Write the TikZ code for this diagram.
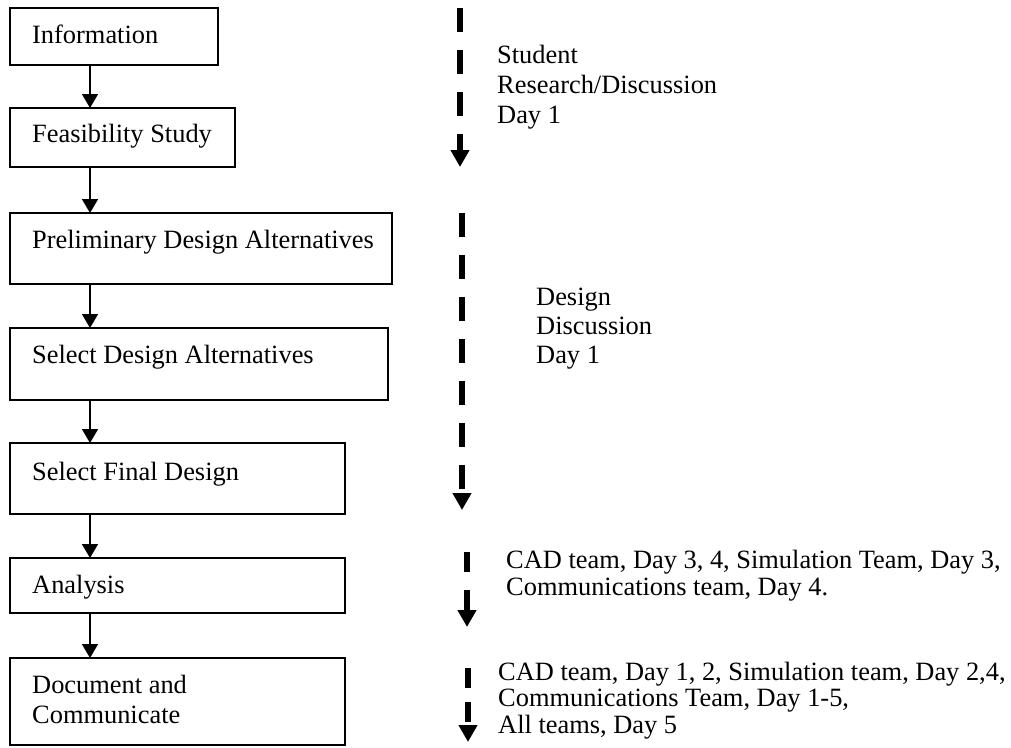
\documentclass[tikz,border=0pt]{standalone}
\usepackage{fontspec}
\setmainfont{Liberation Serif}
\usetikzlibrary{arrows.meta}
\begin{document}
\begin{tikzpicture}[x=1pt,y=-1pt,
  box/.style={draw,line width=1.6pt,rectangle,anchor=north west,inner sep=0pt,outer sep=0pt},
  lbl/.style={anchor=base west,inner sep=0pt,align=left,font=\fontsize{26.4}{29.5}\selectfont},
  arr/.style={line width=1.6pt,-{Triangle[width=16pt,length=14pt]}},
  darr/.style={line width=6.5pt,-{Triangle[width=18pt,length=17pt]}}
]
\useasboundingbox (0,0) rectangle (1011,747);
% boxes
\node[box,minimum width=208pt,minimum height=57pt] (b1) at (10,8) {};
\node[box,minimum width=225pt,minimum height=59pt] (b2) at (10,108) {};
\node[box,minimum width=382pt,minimum height=71pt] (b3) at (10,213) {};
\node[box,minimum width=378pt,minimum height=72pt] (b4) at (10,328) {};
\node[box,minimum width=335pt,minimum height=71pt] (b5) at (10,443) {};
\node[box,minimum width=335pt,minimum height=55pt] (b6) at (10,558) {};
\node[box,minimum width=335pt,minimum height=87pt] (b7) at (10,658) {};
% box texts (base anchor = baseline of the last line)
\node[lbl] (t1) at (32,43) {Information};
\node[lbl] (t2) at (32,142) {Feasibility Study};
\node[lbl] (t3) at (32,248) {Preliminary Design Alternatives};
\node[lbl] (t4) at (32,363) {Select Design Alternatives};
\node[lbl] (t5) at (32,480) {Select Final Design};
\node[lbl] (t6) at (32,593) {Analysis};
\node[lbl,font=\fontsize{26.4}{30}\selectfont] (t7) at (32,723) {Document and\\Communicate};
% flow arrows
\draw[arr] ([xshift=80pt]b1.south west) -- ([xshift=80pt]b2.north west);
\draw[arr] ([xshift=80pt]b2.south west) -- ([xshift=80pt]b3.north west);
\draw[arr] ([xshift=80pt]b3.south west) -- ([xshift=80pt]b4.north west);
\draw[arr] ([xshift=80pt]b4.south west) -- ([xshift=80pt]b5.north west);
\draw[arr] ([xshift=80pt]b5.south west) -- ([xshift=80pt]b6.north west);
\draw[arr] ([xshift=80pt]b6.south west) -- ([xshift=80pt]b7.north west);
% dashed timeline arrows
\coordinate (a1s) at (460,8);   \coordinate (a1e) at (460,167);
\coordinate (a2s) at (462,213); \coordinate (a2e) at (462,510);
\coordinate (a3s) at (467,552); \coordinate (a3e) at (467,627);
\coordinate (a4s) at (468,668); \coordinate (a4e) at (468,742);
\draw[darr,dash pattern=on 24pt off 18pt] (a1s) -- (a1e);
\draw[darr,dash pattern=on 24pt off 18pt] (a2s) -- (a2e);
\draw[darr,dash pattern=on 20pt off 18pt] (a3s) -- (a3e);
\draw[darr,dash pattern=on 20pt off 14pt] (a4s) -- (a4e);
% side texts (base anchor = baseline of the last line)
\node[lbl,font=\fontsize{26.4}{30}\selectfont] (s1) at (497,123) {Student\\Research/Discussion\\Day 1};
\node[lbl,font=\fontsize{26.4}{29}\selectfont] (s2) at (536,363) {Design\\Discussion\\Day 1};
\node[lbl,font=\fontsize{26.4}{27}\selectfont] (s3) at (506,595) {CAD team, Day 3, 4, Simulation Team, Day 3,\\Communications team, Day 4.};
\node[lbl,font=\fontsize{26.4}{26.5}\selectfont] (s4) at (498,733) {CAD team, Day 1, 2, Simulation team, Day 2,4,\\Communications Team, Day 1-5,\\All teams, Day 5};
\end{tikzpicture}
\end{document}
